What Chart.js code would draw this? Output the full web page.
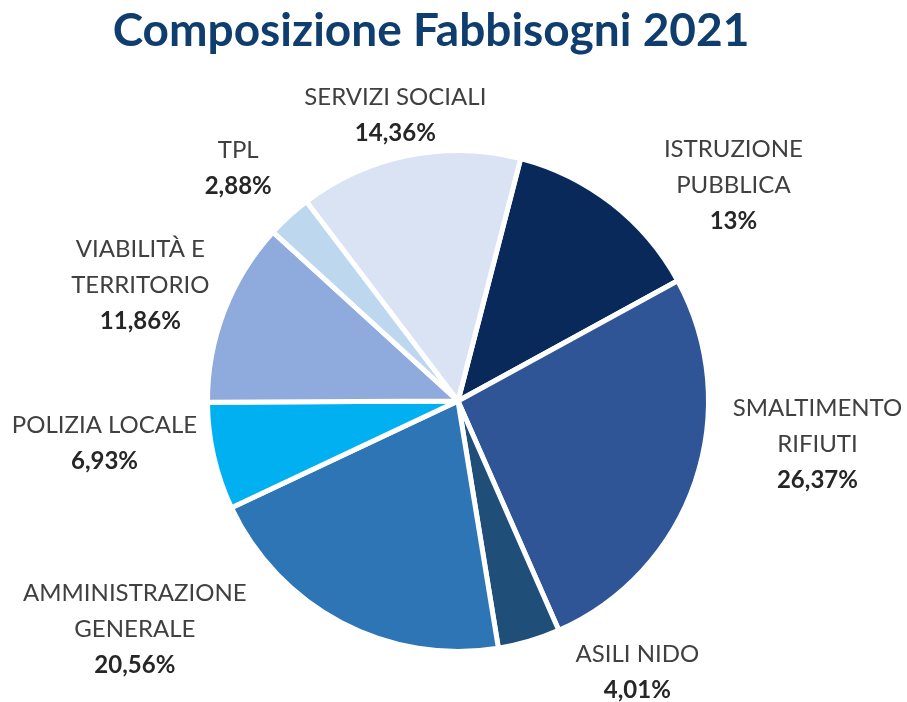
<!DOCTYPE html>
<html>
<head>
<meta charset="utf-8">
<script src="https://cdn.jsdelivr.net/npm/chart.js@4.4.0/dist/chart.umd.min.js"></script>
<style>
    html, body { margin: 0; padding: 0; background: #FFFFFF; }
    #wrap { position: relative; width: 907px; height: 702px; }
</style>
</head>
<body>
<div id="wrap"><canvas id="main-chart"></canvas></div>
<script>
// Data
const titleText = 'Composizione Fabbisogni 2021';
const categories = [
    ['ISTRUZIONE', 'PUBBLICA'],
    ['SMALTIMENTO', 'RIFIUTI'],
    ['ASILI NIDO'],
    ['AMMINISTRAZIONE', 'GENERALE'],
    ['POLIZIA LOCALE'],
    ['VIABILITÀ E', 'TERRITORIO'],
    ['TPL'],
    ['SERVIZI SOCIALI']
];
const shares = [13, 26.37, 4.01, 20.56, 6.93, 11.86, 2.88, 14.36];

// Styles
const sliceColors = ['#08295A', '#2F5596', '#1F4E79', '#2E75B6', '#00B0F0', '#8FAADC', '#BDD7EE', '#DAE3F3'];
// label placement: [angle nudge from slice middle (deg), distance in radius units]
const labelPlacement = [
    [14, 1.397], [-12, 1.445], [-17, 1.297], [27, 1.58],
    [6, 1.421], [-1, 1.35], [-1, 1.277], [-1, 1.169]
];

const pctFormat = new Intl.NumberFormat('it-IT', { maximumFractionDigits: 2 });

const titlePlugin = {
    id: 'bigTitle',
    afterDraw(chart) {
        const ctx = chart.ctx;
        ctx.save();
        ctx.font = 'bold 46px Lato';
        ctx.fillStyle = '#0F3D6E';
        ctx.textAlign = 'center';
        ctx.textBaseline = 'alphabetic';
        ctx.fillText(titleText, 431, 46);
        ctx.restore();
    }
};

const outsideLabels = {
    id: 'outsideLabels',
    afterDatasetsDraw(chart) {
        const ctx = chart.ctx;
        const meta = chart.getDatasetMeta(0);
        const lineH = 36;
        ctx.save();
        ctx.textAlign = 'center';
        ctx.textBaseline = 'middle';
        meta.data.forEach((arc, i) => {
            const p = arc.getProps(['x', 'y', 'startAngle', 'endAngle', 'outerRadius'], true);
            const mid = (p.startAngle + p.endAngle) / 2 + labelPlacement[i][0] * Math.PI / 180;
            const dist = p.outerRadius * labelPlacement[i][1];
            const cx = p.x + Math.cos(mid) * dist;
            const cy = p.y + Math.sin(mid) * dist;
            const lines = categories[i];
            const total = lines.length + 1;
            let y = cy - (total - 1) * lineH / 2;
            ctx.font = '24px Lato';
            ctx.fillStyle = '#404040';
            lines.forEach(t => {
                ctx.fillText(t, cx, y);
                y += lineH;
            });
            ctx.font = 'bold 24px Lato';
            ctx.fillStyle = '#262626';
            ctx.fillText(pctFormat.format(shares[i]) + '%', cx, y);
        });
        ctx.restore();
    }
};

const ctx = document.getElementById('main-chart').getContext('2d');
new Chart(ctx, {
    type: 'pie',
    data: {
        labels: categories,
        datasets: [{
            data: shares,
            backgroundColor: sliceColors,
            borderColor: '#FFFFFF',
            borderWidth: 5,
            hoverOffset: 0,
            hoverBorderWidth: 5
        }]
    },
    options: {
        responsive: true,
        maintainAspectRatio: false,
        animation: false,
        events: [],
        rotation: 14.5,
        layout: {
            padding: { top: 148, left: 205, right: 196, bottom: 48 }
        },
        plugins: {
            legend: { display: false },
            tooltip: { enabled: false },
            title: { display: false }
        }
    },
    plugins: [outsideLabels, titlePlugin]
});
</script>
</body>
</html>
